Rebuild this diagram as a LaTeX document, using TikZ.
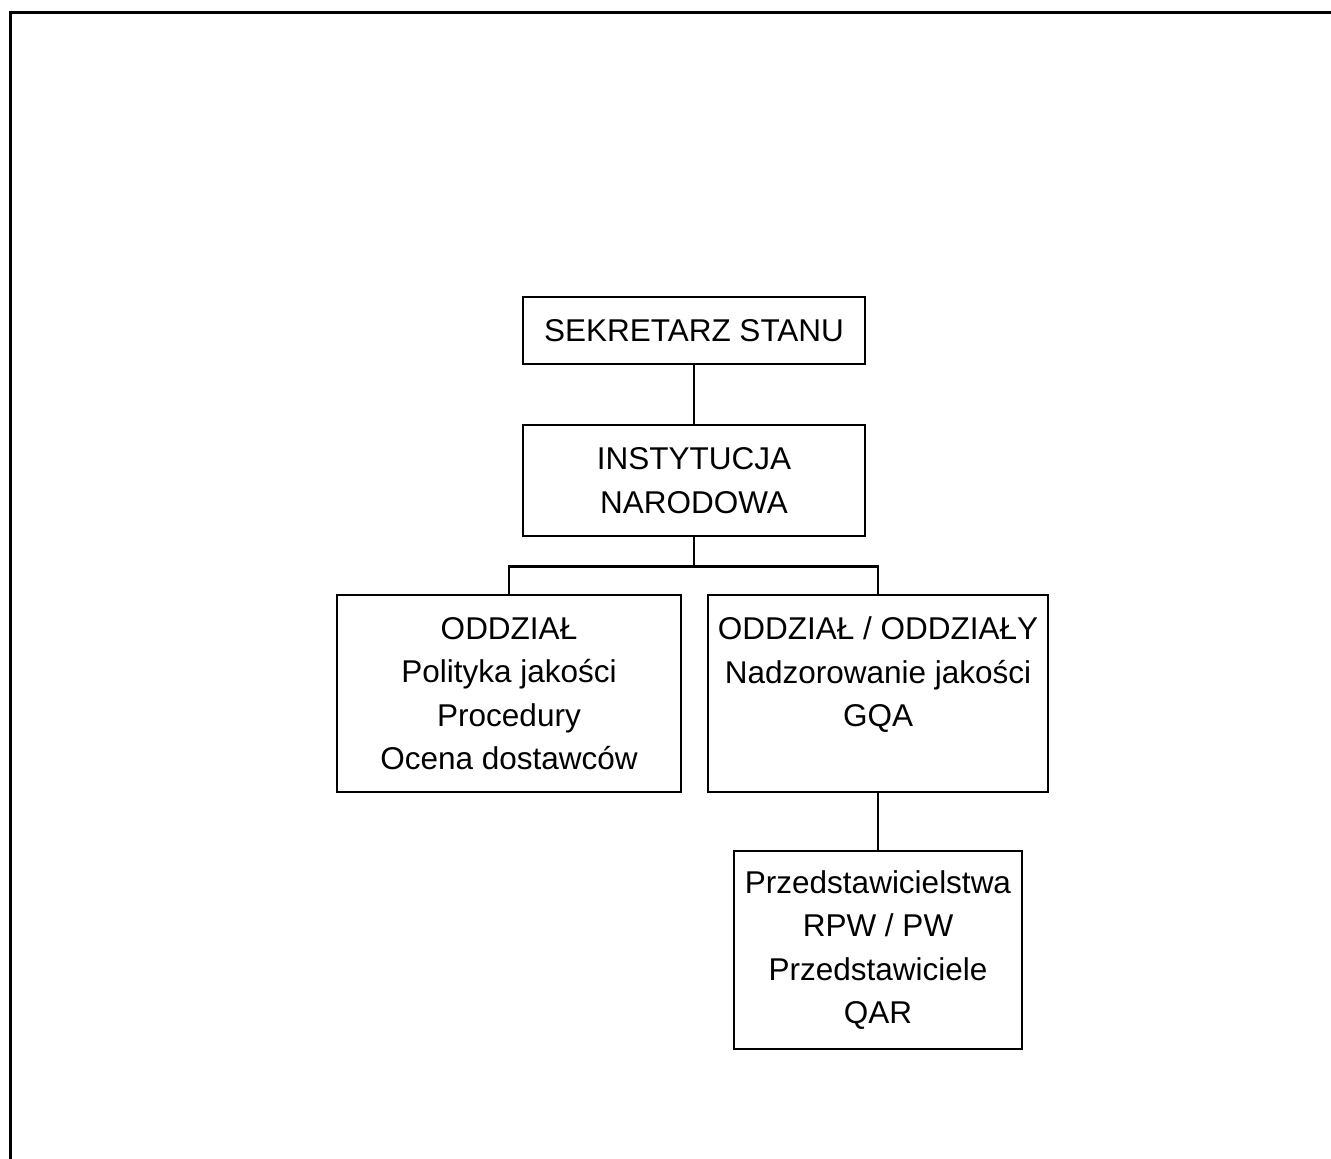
\documentclass[tikz,border=0pt]{standalone}
\usepackage{fontspec}
\setmainfont{Liberation Sans}
\begin{document}
\begin{tikzpicture}[x=1pt,y=-1pt,
  orgbox/.style={draw, line width=2.2pt, inner sep=0pt, align=center,
    font=\fontsize{31.5}{43.5}\selectfont},
  conn/.style={line width=2.2pt}]
\useasboundingbox (0,0) rectangle (1331,1159);
% outer frame (top and left edges)
\draw[line width=3.5pt] (1331,12.5) -- (10.5,12.5) -- (10.5,1159);

% organisation boxes
\node[orgbox, minimum width=342, minimum height=67] (sek) at (694,330.5) {SEKRETARZ STANU};
\node[orgbox, minimum width=342, minimum height=111] (inst) at (694,480.5) {INSTYTUCJA\\NARODOWA};
\node[orgbox, minimum width=344, minimum height=197] (odd) at (509,693.5)
  {ODDZIAŁ\\Polityka jakości\\Procedury\\Ocena dostawców};
\node[orgbox, minimum width=340, minimum height=197] (odds) at (878,693.5)
  {ODDZIAŁ / ODDZIAŁY\\Nadzorowanie jakości\\GQA\\\mbox{}};
\node[orgbox, minimum width=288, minimum height=198] (prz) at (878,950)
  {Przedstawicielstwa\\RPW / PW\\Przedstawiciele\\QAR};

% connectors
\coordinate (bar) at (694,566.5);
\draw[conn] (sek) -- (inst);
\draw[conn] (inst.south) -- (bar);
\draw[conn] (odd.north) |- (bar) -| (odds.north);
\draw[conn] (odds) -- (prz);
\end{tikzpicture}
\end{document}
